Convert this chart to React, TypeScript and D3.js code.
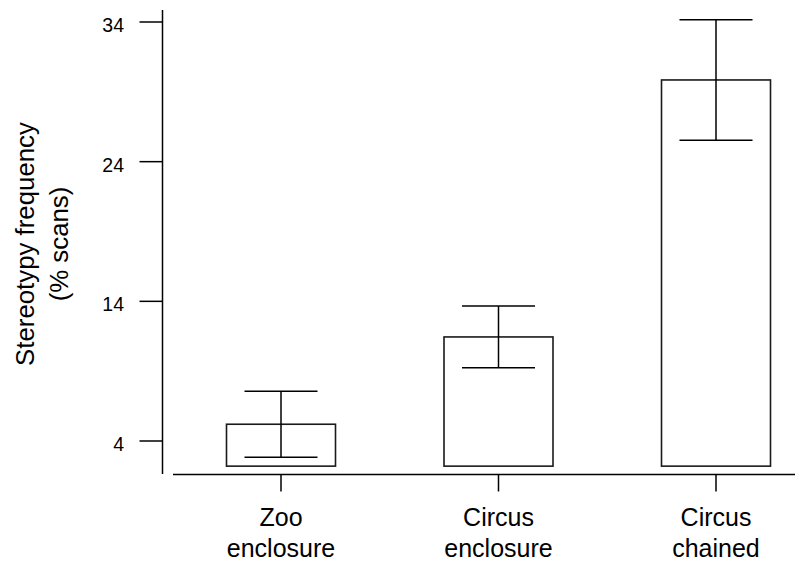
import React from "react";
import * as d3 from "d3";

const categories = ["Zoo enclosure", "Circus enclosure", "Circus chained"];
const labelLines = [["Zoo", "enclosure"], ["Circus", "enclosure"], ["Circus", "chained"]];
const means = [5.2, 11.45, 29.85];
const errors = [2.36, 2.21, 4.31];
const barBase = 2.2;
const yTicks = [4, 14, 24, 34];
const yTitle = ["Stereotypy frequency", "(% scans)"];

const W = 811;
const H = 563;
const FONT = "'Liberation Sans', Arial, Helvetica, sans-serif";

export default function App() {
  const x = d3.scalePoint<string>().domain(categories).range([281, 716]);
  const y = d3.scaleLinear().domain([4, 34]).range([441, 22]);
  const barW = 109;
  const capW = 73;
  const axisX = 162.5;
  const axisY = 474.5;

  return (
    <svg
      width={W}
      height={H}
      style={{ position: "absolute", left: 0, top: 0, background: "#fff" }}
      fontFamily={FONT}
    >
      {/* y axis */}
      <line x1={axisX} x2={axisX} y1={y(34.86)} y2={y(1.64)} stroke="#000" strokeWidth={1.5} />
      {yTicks.map((t) => (
        <g key={t}>
          <line x1={139.5} x2={axisX} y1={y(t)} y2={y(t)} stroke="#000" strokeWidth={1.5} />
          <text x={124} y={y(t) + 10} textAnchor="end" fontSize={19.5} fill="#000">
            {t}
          </text>
        </g>
      ))}
      {/* y title */}
      <g transform={`translate(0,244) rotate(-90)`}>
        <text x={0} y={33.5} textAnchor="middle" fontSize={25.8} fill="#000">
          {yTitle[0]}
        </text>
        <text x={0} y={67.5} textAnchor="middle" fontSize={25.8} fill="#000">
          {yTitle[1]}
        </text>
      </g>
      {/* x axis */}
      <line x1={173} x2={795} y1={axisY} y2={axisY} stroke="#000" strokeWidth={1.5} />
      {categories.map((c, i) => (
        <g key={c}>
          <line x1={x(c)!} x2={x(c)!} y1={axisY} y2={491.5} stroke="#000" strokeWidth={1.5} />
          <text x={x(c)!} y={525.5} textAnchor="middle" fontSize={25} fill="#000">
            {labelLines[i][0]}
          </text>
          <text x={x(c)!} y={557} textAnchor="middle" fontSize={25} fill="#000">
            {labelLines[i][1]}
          </text>
        </g>
      ))}
      {/* bars */}
      {categories.map((c, i) => {
        const cx = x(c)!;
        return (
          <g key={c}>
            <rect
              x={cx - barW / 2}
              y={y(means[i])}
              width={barW}
              height={y(barBase) - y(means[i])}
              fill="#fff"
              stroke="#1a1a1a"
              strokeWidth={1.6}
            />
            <line x1={cx} x2={cx} y1={y(means[i] + errors[i])} y2={y(means[i] - errors[i])} stroke="#000" strokeWidth={1.5} />
            <line x1={cx - capW / 2} x2={cx + capW / 2} y1={y(means[i] + errors[i])} y2={y(means[i] + errors[i])} stroke="#000" strokeWidth={1.5} />
            <line x1={cx - capW / 2} x2={cx + capW / 2} y1={y(means[i] - errors[i])} y2={y(means[i] - errors[i])} stroke="#000" strokeWidth={1.5} />
          </g>
        );
      })}
    </svg>
  );
}
